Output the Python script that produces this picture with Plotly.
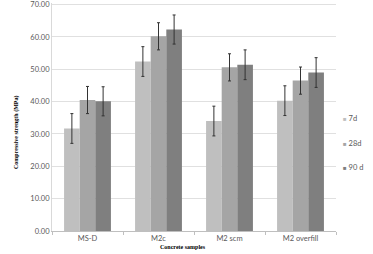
import plotly.graph_objects as go

categories = ["MS-D", "M2c", "M2 scm", "M2 overfill"]
series_names = ["7d", "28d", "90 d"]
vals_7d = [31.7, 52.4, 34.0, 40.3]
vals_28d = [40.5, 60.2, 50.6, 46.5]
vals_90d = [40.1, 62.3, 51.4, 49.0]
err_7d = [4.6, 4.6, 4.6, 4.6]
err_28d = [4.2, 4.2, 4.2, 4.2]
err_90d = [4.5, 4.5, 4.6, 4.6]
colors = ["#bfbfbf", "#a5a5a5", "#7f7f7f"]
y_ticks = [0, 10, 20, 30, 40, 50, 60, 70]
y_tick_labels = ["%.2f" % v for v in y_ticks]

fig = go.Figure()
for name, vals, errs, col in zip(series_names, [vals_7d, vals_28d, vals_90d],
                                 [err_7d, err_28d, err_90d], colors):
    fig.add_trace(go.Bar(
        name=name, x=categories, y=vals, marker_color=col, marker_line_width=0,
        showlegend=False,
        error_y=dict(type="data", array=errs, visible=True, color="#333333",
                     thickness=1, width=1.5),
    ))

tick_font = dict(family="Lato, Open Sans, sans-serif", size=7.5, color="#595959")
title_font = dict(family="Liberation Serif, serif", size=6, color="#000000")

annotations = [
    dict(text="<b>Concrete samples</b>", xref="paper", yref="paper",
         x=0.46, y=0, yshift=-15.5, yanchor="middle", showarrow=False,
         font=title_font),
    dict(text="<b>Compressive strength (MPa)</b>", xref="paper", yref="paper",
         x=0, xshift=-35, y=0.43, textangle=-90, showarrow=False,
         xanchor="center", yanchor="middle", font=title_font),
]
# legend entries as text (small coloured square + label)
legend_y = [0.495, 0.385, 0.28]
for name, col, ly in zip(series_names, colors, legend_y):
    annotations.append(dict(
        text="<span style='color:%s;font-size:6px'>■</span> %s" % (col, name),
        xref="paper", yref="paper", x=1.0, xshift=5, y=ly,
        xanchor="left", yanchor="middle", showarrow=False, font=tick_font))

fig.update_layout(
    width=373, height=254,
    margin=dict(l=52, r=37, t=2.7, b=23.3, autoexpand=False),
    paper_bgcolor="white", plot_bgcolor="white",
    barmode="group", bargap=0.34, bargroupgap=0,
    showlegend=False,
    xaxis=dict(showline=True, linecolor="#bfbfbf", linewidth=1,
               ticks="outside", tickson="boundaries", ticklen=3,
               tickcolor="#bfbfbf", tickwidth=1,
               tickfont=tick_font, showgrid=False),
    yaxis=dict(range=[0, 70.5], tickvals=y_ticks, ticktext=y_tick_labels,
               showline=True, linecolor="#d9d9d9", linewidth=1,
               showgrid=True, gridcolor="#e0e0e0", gridwidth=1,
               tickfont=tick_font, ticks="", zeroline=False,
               ticklabeloverflow="allow"),
    annotations=annotations,
)

fig.write_html("out.html", config={"displayModeBar": False},
               post_script="document.body.style.margin='0';")
